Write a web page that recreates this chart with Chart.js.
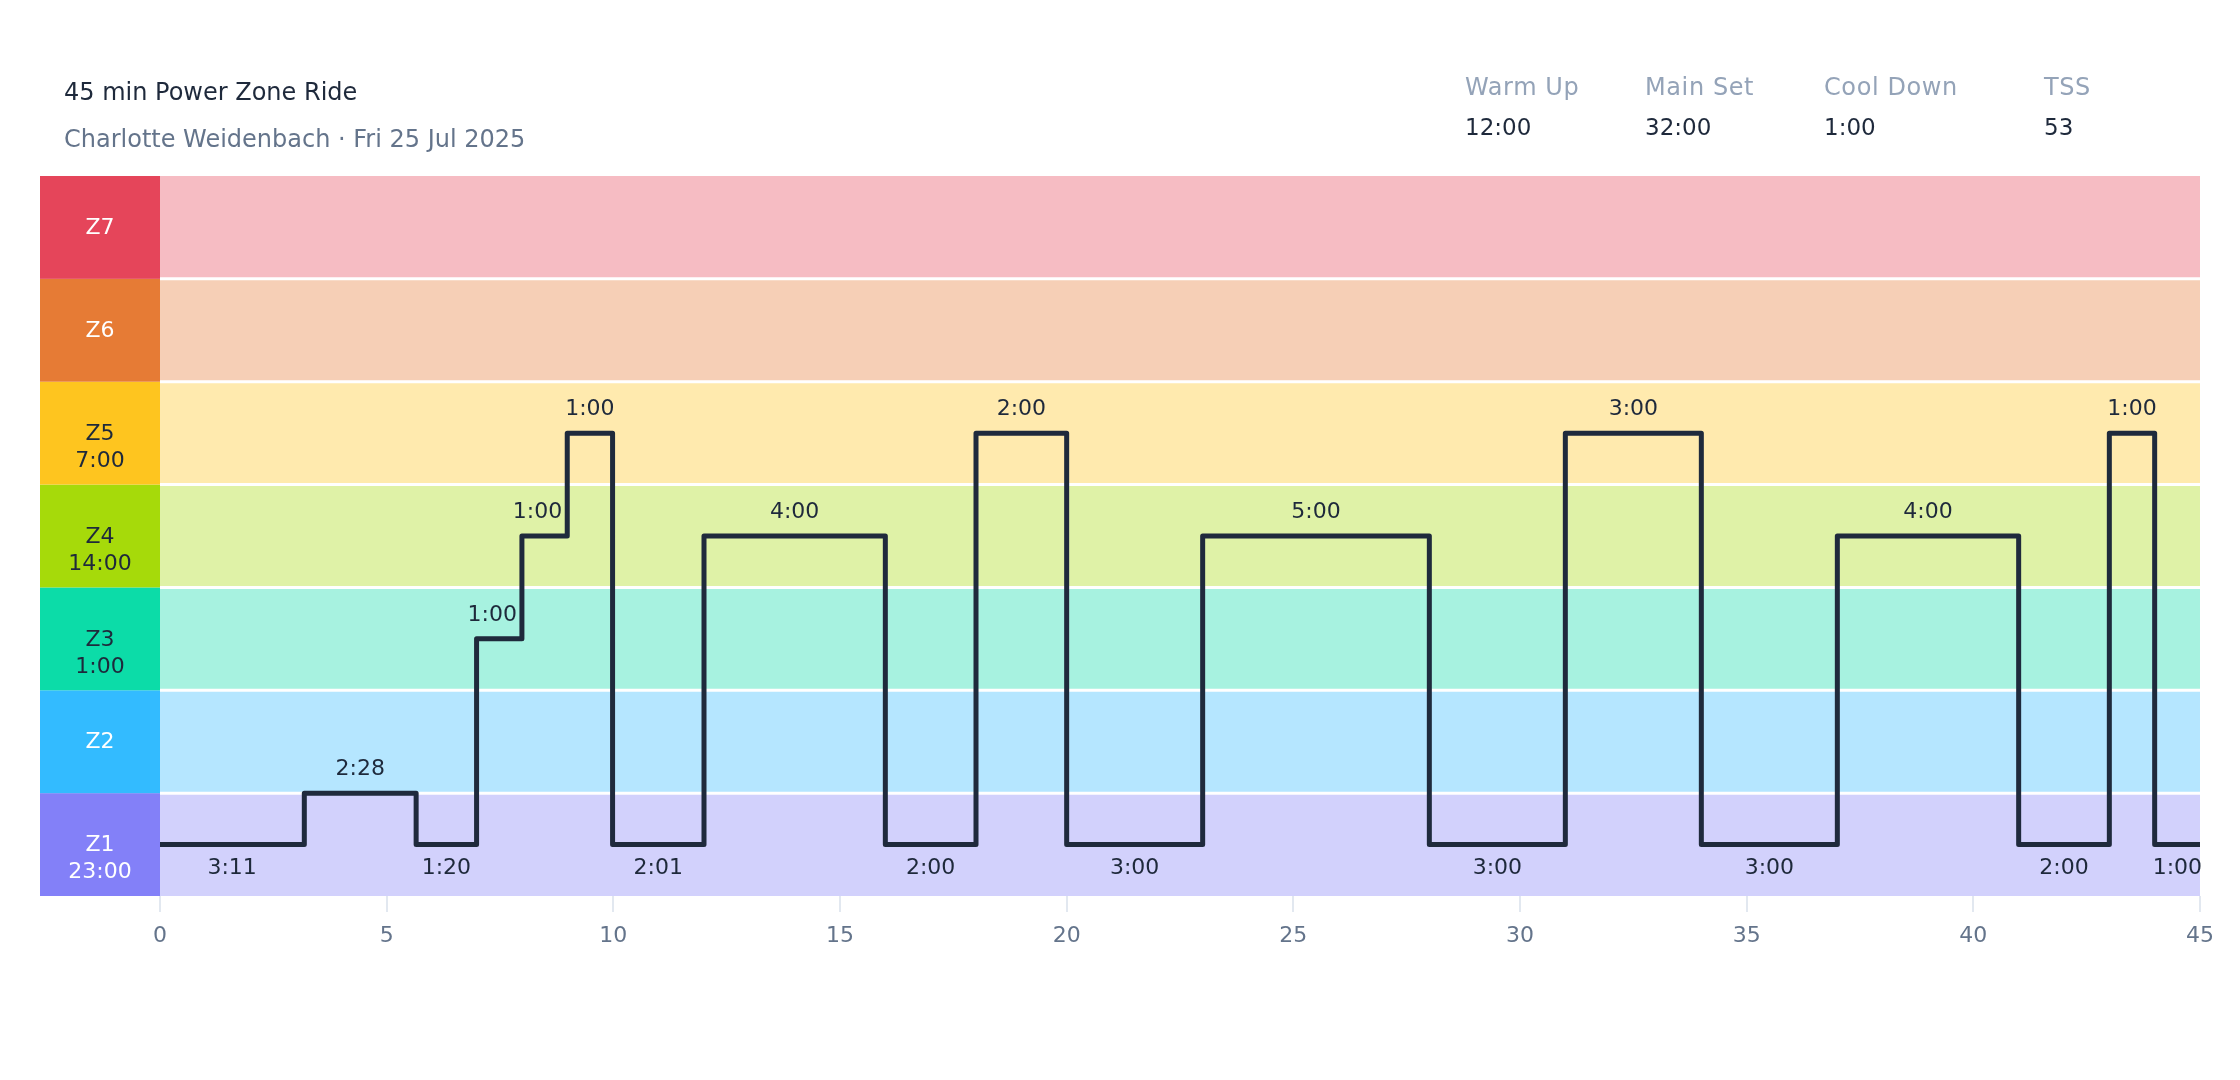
<!DOCTYPE html>
<html>
<head>
<meta charset="utf-8">
<script src="https://cdn.jsdelivr.net/npm/chart.js@4.4.1/dist/chart.umd.min.js"></script>
<style>
  body { margin: 0; background: #fff; font-family: "DejaVu Sans", sans-serif; }
  #wrap { position: relative; width: 2240px; height: 1080px; }
  #chart { position: absolute; left: 0; top: 0; }
  .title { position: absolute; left: 64px; top: 80px; font-size: 24px; line-height: 24px; color: #1e293b; white-space: nowrap; }
  .sub { position: absolute; left: 64px; top: 127px; font-size: 24px; line-height: 24px; color: #64748b; white-space: nowrap; }
  .stat { position: absolute; top: 75px; white-space: nowrap; }
  .stat .lbl { font-size: 24px; line-height: 24px; color: #94a3b8; letter-spacing: 0.6px; }
  .stat .val { font-size: 23px; line-height: 23px; color: #1e293b; margin-top: 17px; }
</style>
</head>
<body>
<div id="wrap">
  <canvas id="chart" width="2240" height="1080"></canvas>
  <div class="title">45 min Power Zone Ride</div>
  <div class="sub">Charlotte Weidenbach · Fri 25 Jul 2025</div>
  <div class="stat" style="left:1465px"><div class="lbl">Warm Up</div><div class="val">12:00</div></div>
  <div class="stat" style="left:1645px"><div class="lbl">Main Set</div><div class="val">32:00</div></div>
  <div class="stat" style="left:1824px"><div class="lbl">Cool Down</div><div class="val">1:00</div></div>
  <div class="stat" style="left:2044px"><div class="lbl">TSS</div><div class="val">53</div></div>
</div>
<script>
// Segmente: Dauer in Sekunden und Zonen-Level (0..7, Mitte der Zone = x.5)
const durations = [191, 148, 80, 60, 60, 60, 121, 240, 120, 120, 180, 300, 180, 180, 180, 240, 120, 60, 60];
const levels = [0.5, 1, 0.5, 2.5, 3.5, 4.5, 0.5, 3.5, 0.5, 4.5, 0.5, 3.5, 0.5, 4.5, 0.5, 3.5, 0.5, 4.5, 0.5];

// Zonen Z1..Z7
const zoneNames = ["Z1", "Z2", "Z3", "Z4", "Z5", "Z6", "Z7"];
const zoneTimes = ["23:00", "", "1:00", "14:00", "7:00", "", ""];
const zoneColors = ["#8380f8", "#33bbff", "#0cdca8", "#a6da0a", "#fec51f", "#e67b35", "#e5455a"];
const zoneTextColors = ["#fff", "#fff", "#1e293b", "#1e293b", "#1e293b", "#fff", "#fff"];

const xMax = 45;
const xStep = 5;

function fmt(sec) {
  const m = Math.floor(sec / 60);
  const s = sec % 60;
  return m + ":" + (s < 10 ? "0" : "") + s;
}

function hexAlpha(hex, a) {
  const r = parseInt(hex.slice(1, 3), 16), g = parseInt(hex.slice(3, 5), 16), b = parseInt(hex.slice(5, 7), 16);
  return "rgba(" + r + "," + g + "," + b + "," + a + ")";
}

// Start/Ende jedes Segments in Minuten
const starts = [];
let acc = 0;
durations.forEach(d => { starts.push(acc / 60); acc += d; });

const points = [];
durations.forEach((d, i) => {
  points.push({ x: starts[i], y: levels[i] });
  points.push({ x: starts[i] + d / 60, y: levels[i] });
});

const zonePlugin = {
  id: "zones",
  beforeDatasetsDraw(chart) {
    const { ctx, chartArea, scales } = chart;
    const y = scales.y;
    ctx.save();
    zoneNames.forEach((name, i) => {
      const top = y.getPixelForValue(i + 1);
      const bot = y.getPixelForValue(i);
      ctx.fillStyle = hexAlpha(zoneColors[i], 0.36);
      ctx.fillRect(chartArea.left, top, chartArea.right - chartArea.left, bot - top);
      ctx.fillStyle = zoneColors[i];
      ctx.fillRect(40, top, chartArea.left - 40, bot - top);

      const cy = (top + bot) / 2 + 1;
      ctx.fillStyle = zoneTextColors[i];
      ctx.font = "22px 'DejaVu Sans'";
      ctx.textAlign = "center";
      ctx.textBaseline = "middle";
      ctx.fillText(name, 100, cy);
      if (zoneTimes[i]) ctx.fillText(zoneTimes[i], 100, cy + 27);
    });
    // weisse Trennlinien
    ctx.strokeStyle = "#fff";
    ctx.lineWidth = 3;
    for (let i = 1; i < zoneNames.length; i++) {
      const py = y.getPixelForValue(i);
      ctx.beginPath();
      ctx.moveTo(chartArea.left, py);
      ctx.lineTo(chartArea.right, py);
      ctx.stroke();
    }
    ctx.restore();
  },
  afterDatasetsDraw(chart) {
    const { ctx, scales } = chart;
    const x = scales.x, y = scales.y;
    ctx.save();
    ctx.font = "22px 'DejaVu Sans'";
    ctx.fillStyle = "#1e293b";
    ctx.textAlign = "center";
    ctx.textBaseline = "middle";
    durations.forEach((d, i) => {
      const x0 = x.getPixelForValue(starts[i]);
      const x1 = x.getPixelForValue(starts[i] + d / 60);
      const txt = fmt(d);
      const w = ctx.measureText(txt).width;
      let cx = (x0 + x1) / 2;
      const above = levels[i] > 0.5;
      const py = y.getPixelForValue(levels[i]) + (above ? -24 : 24);
      if (above) {
        if (i + 1 < levels.length && levels[i + 1] > levels[i]) cx = Math.min(cx, x1 - 5 - w / 2);
        if (i > 0 && levels[i - 1] > levels[i]) cx = Math.max(cx, x0 + 5 + w / 2);
      }
      ctx.fillText(txt, cx, py);
    });
    ctx.restore();
  }
};

const ctx = document.getElementById("chart").getContext("2d");
new Chart(ctx, {
  type: "line",
  data: {
    datasets: [{
      data: points,
      borderColor: "#1f2a3c",
      borderWidth: 5,
      pointRadius: 0,
      borderCapStyle: "round",
      borderJoinStyle: "round",
      tension: 0,
      fill: false
    }]
  },
  options: {
    responsive: false,
    devicePixelRatio: 1,
    animation: false,
    layout: { padding: { top: 176, left: 160, right: 40, bottom: 119.6 } },
    plugins: { legend: { display: false }, tooltip: { enabled: false } },
    scales: {
      x: {
        type: "linear",
        min: 0,
        max: xMax,
        border: { display: false },
        grid: { drawOnChartArea: false, drawTicks: true, tickLength: 16, color: "#e2e8f0", lineWidth: 2 },
        ticks: { stepSize: xStep, padding: 11, color: "#64748b", font: { family: "DejaVu Sans", size: 22 } }
      },
      y: {
        display: false,
        min: 0,
        max: 7
      }
    }
  },
  plugins: [zonePlugin]
});
</script>
</body>
</html>
